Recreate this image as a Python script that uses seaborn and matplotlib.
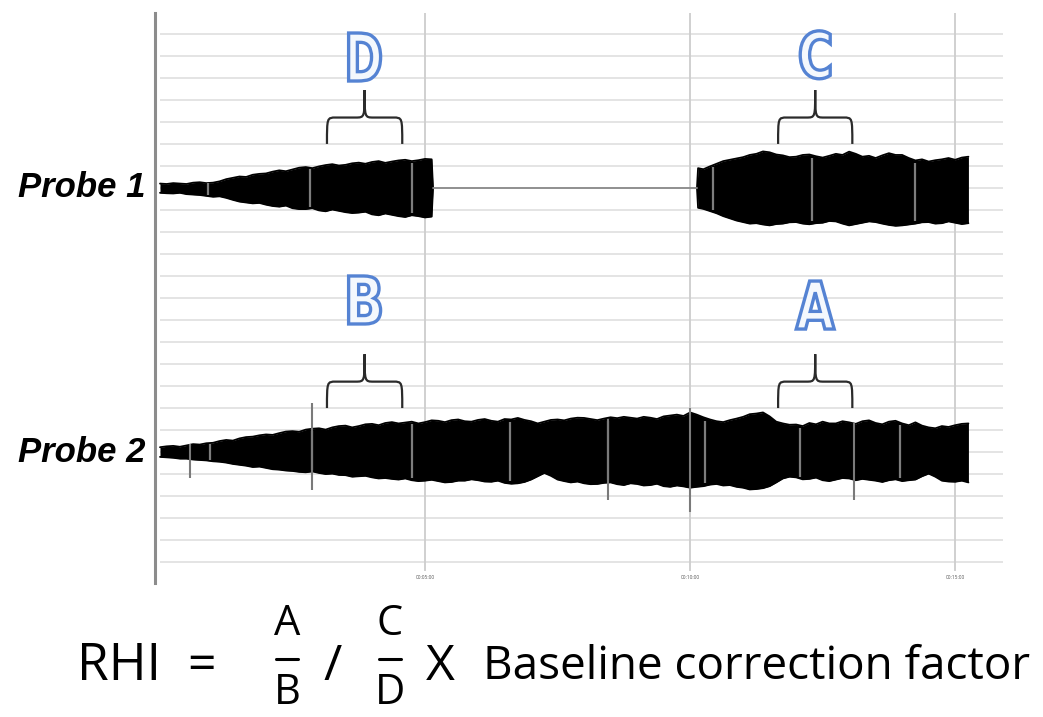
import numpy as np
import pandas as pd
import matplotlib
matplotlib.use("Agg")
import matplotlib.pyplot as plt
from matplotlib.path import Path
from matplotlib.patches import PathPatch
from matplotlib.textpath import TextPath
from matplotlib.font_manager import FontProperties
from matplotlib.transforms import Affine2D, ScaledTranslation
from matplotlib.lines import Line2D
import seaborn as sns

W, H = 1043, 717

# Probe 1, first part (minutes, envelope above / below the trace centre in grid units)
p1a_time = [0.0, 0.125, 0.25, 0.375, 0.5, 0.625, 0.75, 0.875, 1.0, 1.125, 1.25, 1.375,
            1.5, 1.625, 1.75, 1.875, 2.0, 2.125, 2.25, 2.375, 2.5, 2.625, 2.75, 2.875,
            3.0, 3.125, 3.25, 3.375, 3.5, 3.625, 3.75, 3.875, 4.0, 4.125, 4.25, 4.375,
            4.5, 4.625, 4.75, 4.875, 5.0, 5.125, 5.15]
p1a_up = [0.20, 0.18, 0.22, 0.20, 0.18, 0.24, 0.26, 0.22, 0.24, 0.30, 0.40, 0.46,
          0.52, 0.50, 0.60, 0.64, 0.66, 0.74, 0.80, 0.76, 0.84, 0.92, 0.95, 0.90,
          0.98, 1.04, 1.08, 1.02, 1.05, 1.12, 1.15, 1.10, 1.18, 1.22, 1.14, 1.20,
          1.25, 1.28, 1.22, 1.26, 1.32, 1.30, 0.03]
p1a_lo = [0.22, 0.24, 0.25, 0.22, 0.28, 0.30, 0.32, 0.36, 0.40, 0.38, 0.45, 0.54,
          0.62, 0.66, 0.70, 0.68, 0.76, 0.82, 0.85, 0.80, 0.92, 0.96, 0.96, 0.92,
          1.02, 1.06, 0.98, 1.04, 1.10, 1.14, 1.12, 1.08, 1.20, 1.24, 1.16, 1.22,
          1.28, 1.32, 1.24, 1.28, 1.34, 1.30, 0.03]

# Probe 1, second part
p1b_time = [10.13, 10.15, 10.25, 10.375, 10.5, 10.625, 10.75, 10.875, 11.0, 11.125, 11.25,
            11.375, 11.5, 11.625, 11.75, 11.875, 12.0, 12.125, 12.25, 12.375, 12.5, 12.625,
            12.75, 12.875, 13.0, 13.125, 13.25, 13.375, 13.5, 13.625, 13.75, 13.875, 14.0,
            14.125, 14.25, 14.375, 14.5, 14.625, 14.75, 14.875, 15.0, 15.125, 15.25]
p1b_up = [0.03, 0.90, 0.85, 0.98, 1.10, 1.22, 1.28, 1.34, 1.40, 1.50, 1.55,
          1.66, 1.62, 1.52, 1.48, 1.40, 1.42, 1.50, 1.52, 1.44, 1.38, 1.46,
          1.55, 1.50, 1.65, 1.55, 1.42, 1.46, 1.36, 1.48, 1.58, 1.50, 1.50,
          1.36, 1.25, 1.30, 1.20, 1.26, 1.30, 1.36, 1.28, 1.38, 1.42]
p1b_lo = [0.03, 0.90, 0.95, 1.05, 1.15, 1.28, 1.38, 1.48, 1.55, 1.62, 1.60,
          1.66, 1.70, 1.64, 1.62, 1.56, 1.55, 1.62, 1.65, 1.60, 1.58, 1.50,
          1.52, 1.62, 1.70, 1.64, 1.58, 1.52, 1.55, 1.62, 1.68, 1.72, 1.70,
          1.66, 1.62, 1.56, 1.55, 1.62, 1.60, 1.52, 1.58, 1.64, 1.60]

# Probe 2
p2_time = [0.0, 0.125, 0.25, 0.375, 0.5, 0.625, 0.75, 0.875, 1.0, 1.125, 1.25, 1.375,
           1.5, 1.625, 1.75, 1.875, 2.0, 2.125, 2.25, 2.375, 2.5, 2.625, 2.75, 2.875,
           3.0, 3.125, 3.25, 3.375, 3.5, 3.625, 3.75, 3.875, 4.0, 4.125, 4.25, 4.375,
           4.5, 4.625, 4.75, 4.875, 5.0, 5.125, 5.25, 5.375, 5.5, 5.625, 5.75, 5.875,
           6.0, 6.125, 6.25, 6.375, 6.5, 6.625, 6.75, 6.875, 7.0, 7.125, 7.25, 7.375,
           7.5, 7.625, 7.75, 7.875, 8.0, 8.125, 8.25, 8.375, 8.5, 8.625, 8.75, 8.875,
           9.0, 9.125, 9.25, 9.375, 9.5, 9.625, 9.75, 9.875, 10.0, 10.125, 10.25, 10.375,
           10.5, 10.625, 10.75, 10.875, 11.0, 11.125, 11.25, 11.375, 11.5, 11.625, 11.75,
           11.875, 12.0, 12.125, 12.25, 12.375, 12.5, 12.625, 12.75, 12.875, 13.0, 13.125,
           13.25, 13.375, 13.5, 13.625, 13.75, 13.875, 14.0, 14.125, 14.25, 14.375, 14.5,
           14.625, 14.75, 14.875, 15.0, 15.125, 15.25]
p2_up = [0.22, 0.26, 0.28, 0.24, 0.30, 0.36, 0.34, 0.40, 0.42, 0.50, 0.55, 0.52,
         0.62, 0.68, 0.70, 0.76, 0.80, 0.78, 0.86, 0.93, 0.95, 0.92, 1.02, 1.06,
         1.08, 1.02, 1.12, 1.18, 1.20, 1.12, 1.18, 1.26, 1.28, 1.22, 1.32, 1.36,
         1.30, 1.34, 1.38, 1.30, 1.36, 1.44, 1.42, 1.36, 1.45, 1.48, 1.40, 1.38,
         1.46, 1.50, 1.42, 1.38, 1.50, 1.48, 1.55, 1.46, 1.40, 1.30, 1.38, 1.46,
         1.48, 1.44, 1.52, 1.56, 1.55, 1.50, 1.45, 1.52, 1.58, 1.54, 1.60, 1.56,
         1.52, 1.60, 1.56, 1.50, 1.62, 1.66, 1.70, 1.64, 1.80, 1.70, 1.58, 1.48,
         1.40, 1.36, 1.45, 1.52, 1.60, 1.72, 1.75, 1.80, 1.62, 1.38, 1.30,
         1.24, 1.25, 1.18, 1.32, 1.26, 1.38, 1.30, 1.30, 1.40, 1.35, 1.28,
         1.40, 1.44, 1.32, 1.26, 1.38, 1.42, 1.30, 1.22, 1.35, 1.20, 1.12,
         1.08, 1.18, 1.14, 1.22, 1.28, 1.30]
p2_lo = [0.22, 0.24, 0.26, 0.30, 0.30, 0.34, 0.36, 0.38, 0.42, 0.44, 0.48, 0.54,
         0.58, 0.62, 0.68, 0.66, 0.72, 0.78, 0.80, 0.84, 0.86, 0.90, 0.92, 0.88,
         0.95, 1.00, 0.98, 1.04, 1.05, 1.12, 1.10, 1.08, 1.15, 1.20, 1.18, 1.22,
         1.25, 1.20, 1.28, 1.32, 1.30, 1.26, 1.32, 1.38, 1.36, 1.30, 1.30, 1.24,
         1.28, 1.34, 1.35, 1.30, 1.40, 1.44, 1.42, 1.36, 1.25, 1.10, 0.95, 1.08,
         1.25, 1.32, 1.38, 1.34, 1.42, 1.46, 1.45, 1.40, 1.38, 1.46, 1.50, 1.42,
         1.45, 1.52, 1.50, 1.44, 1.55, 1.58, 1.52, 1.56, 1.62, 1.58, 1.55, 1.48,
         1.45, 1.52, 1.50, 1.58, 1.62, 1.70, 1.68, 1.64, 1.55, 1.38, 1.20,
         1.12, 1.15, 1.24, 1.22, 1.16, 1.28, 1.32, 1.25, 1.18, 1.20, 1.28,
         1.22, 1.26, 1.30, 1.36, 1.28, 1.24, 1.32, 1.28, 1.25, 1.10, 0.98,
         1.12, 1.30, 1.34, 1.35, 1.30, 1.38]

# light stripes inside the traces and isolated spikes
p1_stripes = [0.9, 2.83, 4.75, 10.43, 12.3, 14.25]
p2_stripes = [0.94, 2.87, 4.75, 6.6, 8.45, 10.28, 12.08, 13.96]
p2_spike_time = [0.57, 2.87, 8.45, 10.0, 13.1]
p2_spike_up = [0.36, 2.23, 1.50, 2.00, 1.30]
p2_spike_lo = [1.18, 1.73, 2.18, 2.73, 2.18]

# bracketed windows
region_labels = ["D", "C", "B", "A"]
region_start = [3.15, 11.66, 3.15, 11.66]
region_end = [4.57, 13.06, 4.57, 13.06]
region_probe = [1, 1, 2, 2]
letter_y = [17.95, 18.05, 6.91, 6.68]
letter_w = [32, 30, 32, 38]

tick_pos = [5, 10, 15]
tick_labels = ["00:05:00", "00:10:00", "00:15:00"]
probe_names = ["Probe 1", "Probe 2"]
centers = {1: 12, 2: 0}


def fx(px):
    return px / W


def fy(py):
    return 1 - py / H


def draw_trace(ax, t, up, lo, center):
    t, up, lo = np.asarray(t), np.asarray(up), np.asarray(lo)
    ax.fill_between(t, center + up, center - lo, color="black", lw=0, zorder=3)
    df = pd.DataFrame({"t": np.r_[t, t], "y": np.r_[center + up, center - lo],
                       "edge": ["up"] * len(t) + ["lo"] * len(t)})
    sns.lineplot(data=df, x="t", y="y", units="edge", estimator=None, sort=False,
                 color="black", lw=1.3, ax=ax, legend=False, zorder=3)


def draw_stripes(ax, stripes, t, up, lo, center):
    for s in stripes:
        u = np.interp(s, t, up)
        l = np.interp(s, t, lo)
        ax.vlines(s, center - 0.92 * l, center + 0.92 * u, color="#7d7d7d", lw=1.6, zorder=4)


def draw_brace(ax, x0, x1, y_end, y_flat, y_tip):
    mid = (x0 + x1) / 2
    r = (x1 - x0) * 0.12
    verts = [(x0, y_end), (x0, y_flat), (x0, y_flat), (x0 + r, y_flat),
             (mid - r, y_flat), (mid, y_flat), (mid, y_flat), (mid, y_tip),
             (mid, y_flat), (mid, y_flat), (mid + r, y_flat),
             (x1 - r, y_flat), (x1, y_flat), (x1, y_flat), (x1, y_end)]
    C, L = Path.CURVE4, Path.LINETO
    codes = [Path.MOVETO, C, C, C, L, C, C, C, C, C, C, L, C, C, C]
    ax.add_patch(PathPatch(Path(verts, codes), fc="none", ec="#2b2b2b", lw=1.6, zorder=5))


def outline_letter(ax, ch, x, y, w_px, h_px):
    tp = TextPath((0, 0), ch, size=100, prop=FontProperties(family="DejaVu Sans", weight="bold"))
    bb = tp.get_extents()
    tr = (Affine2D().translate(-(bb.x0 + bb.x1) / 2, -(bb.y0 + bb.y1) / 2)
          .scale(w_px / bb.width, h_px / bb.height)
          + ScaledTranslation(x, y, ax.transData))
    ax.add_artist(PathPatch(tp, transform=tr, fc="#f4f8fd", ec="#5583d3", lw=2.4, zorder=6))


sns.set_theme(style="white")
plt.rcParams["font.family"] = ["Open Sans", "DejaVu Sans"]
plt.rcParams["text.color"] = "black"

fig = plt.figure(figsize=(W / 100, H / 100), dpi=100)
ax = fig.add_axes([fx(155), fy(583), 850 / W, 570 / H])
ax.set_xlim(-0.094, 15.94)
ax.set_ylim(-5.95, 19.95)

# grid
ax.hlines(np.arange(-5, 20), 0.0, 15.9, color="#e2e2e2", lw=1.3, zorder=1)
ax.vlines(tick_pos, -5.4, 19.95, color="#cdcdcd", lw=1.3, zorder=2)

# traces
draw_trace(ax, p1a_time, p1a_up, p1a_lo, centers[1])
draw_trace(ax, p1b_time, p1b_up, p1b_lo, centers[1])
sns.lineplot(x=[p1a_time[-1], p1b_time[0]], y=[centers[1], centers[1]], color="#8a8a8a",
             lw=1.3, ax=ax, zorder=3)
draw_trace(ax, p2_time, p2_up, p2_lo, centers[2])

draw_stripes(ax, p1_stripes[:3], p1a_time, p1a_up, p1a_lo, centers[1])
draw_stripes(ax, p1_stripes[3:], p1b_time, p1b_up, p1b_lo, centers[1])
draw_stripes(ax, p2_stripes, p2_time, p2_up, p2_lo, centers[2])
ax.vlines(p2_spike_time, centers[2] - np.array(p2_spike_lo), centers[2] + np.array(p2_spike_up),
          color="#7a7a7a", lw=1.5, zorder=4)

# braces and letters
for lab, x0, x1, pr, ly, lw_ in zip(region_labels, region_start, region_end, region_probe,
                                   letter_y, letter_w):
    c = centers[pr]
    draw_brace(ax, x0, x1, c + 2.0, c + 3.2, c + 4.45)
    outline_letter(ax, lab, (x0 + x1) / 2, ly, lw_, 48)

for name, c in zip(probe_names, [centers[1], centers[2]]):
    ax.text(-0.28, c, name, ha="right", va="center", fontsize=25, fontweight="bold",
            fontstyle="italic", family=["Liberation Sans", "DejaVu Sans"], color="black",
            clip_on=False)

# axes style
ax.set_xticks(tick_pos, tick_labels)
ax.set_yticks([])
ax.tick_params(axis="x", length=0, pad=-6, labelsize=3.5, labelcolor="#555555")
for side in ["top", "right", "bottom"]:
    ax.spines[side].set_visible(False)
ax.spines["left"].set_color("#8c8c8c")
ax.spines["left"].set_linewidth(2.2)
ax.set_xlabel("")
ax.set_ylabel("")

# formula
ymid = 667
fig.text(fx(77), fy(ymid), "RHI", fontsize=37, ha="left", va="center")
fig.text(fx(202), fy(ymid), "=", fontsize=36, ha="center", va="center")
fig.text(fx(287), fy(624), "A", fontsize=30, ha="center", va="center")
fig.text(fx(287), fy(693), "B", fontsize=30, ha="center", va="center")
fig.add_artist(Line2D([fx(276), fx(298)], [fy(659), fy(659)], color="black", lw=2.2))
fig.text(fx(333), fy(ymid), "/", fontsize=36, ha="center", va="center")
fig.text(fx(390), fy(624), "C", fontsize=30, ha="center", va="center")
fig.text(fx(390), fy(693), "D", fontsize=30, ha="center", va="center")
fig.add_artist(Line2D([fx(379), fx(401)], [fy(659), fy(659)], color="black", lw=2.2))
fig.text(fx(440), fy(ymid), "X", fontsize=36, ha="center", va="center")
fig.text(fx(483), fy(ymid), "Baseline correction factor", fontsize=33, ha="left", va="center")

fig.savefig("out.png", dpi=100)
